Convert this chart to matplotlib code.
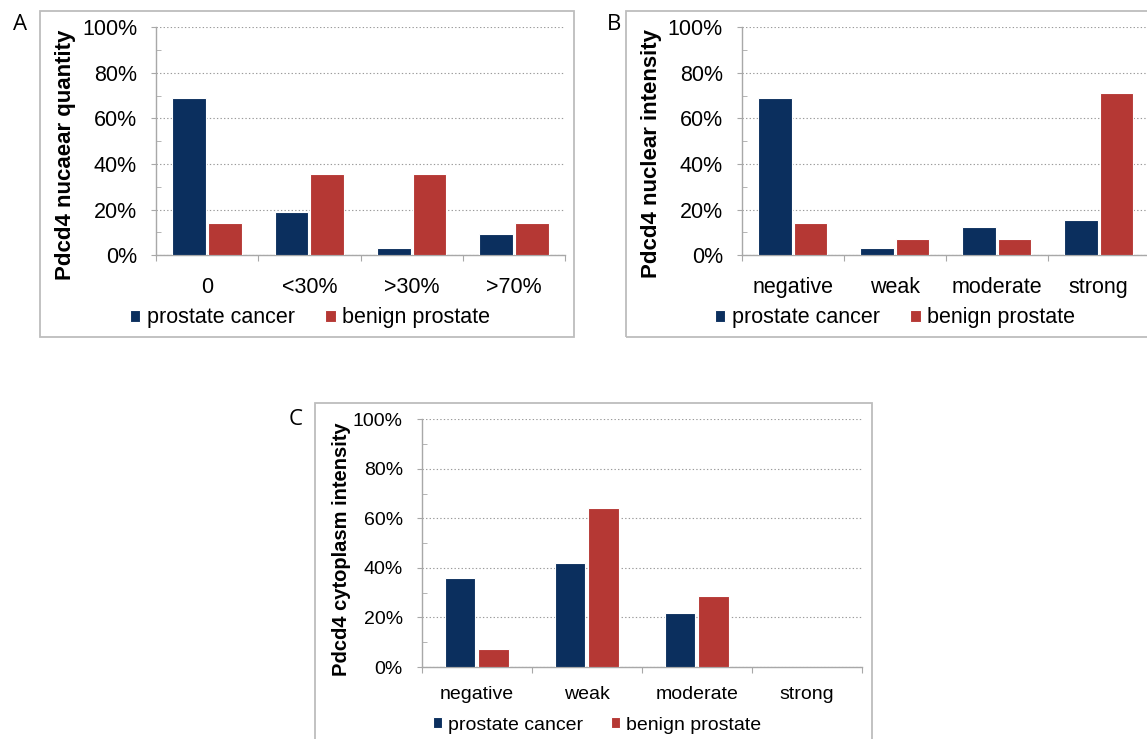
import matplotlib
matplotlib.use("Agg")
import matplotlib.pyplot as plt
from matplotlib.patches import Rectangle
from matplotlib.ticker import FuncFormatter

# data (percent of cases)
quantity_cats = ["0", "<30%", ">30%", ">70%"]
quantity_cancer = [68.8, 18.8, 3.1, 9.4]
quantity_benign = [14.3, 35.7, 35.7, 14.3]

nuclear_cats = ["negative", "weak", "moderate", "strong"]
nuclear_cancer = [68.8, 3.1, 12.5, 15.6]
nuclear_benign = [14.3, 7.1, 7.1, 71.4]

cyto_cats = ["negative", "weak", "moderate", "strong"]
cyto_cancer = [36.0, 42.0, 22.0, 0.0]
cyto_benign = [7.1, 64.3, 28.6, 0.0]

series_names = ["prostate cancer", "benign prostate"]
BLUE = "#0b2f5e"
RED = "#b53834"
GRID = "#9a9a9a"
SPINE = "#a8a8a8"

W, H = 1147, 739
plt.rcParams["font.family"] = ["Liberation Sans", "DejaVu Sans"]

fig = plt.figure(figsize=(W / 100, H / 100), dpi=100)


def px_axes(left, right, top, bottom):
    return fig.add_axes([left / W, 1 - bottom / H, (right - left) / W, (bottom - top) / H])


def frame(left, top, right, bottom):
    fig.patches.append(Rectangle((left / W, 1 - bottom / H), (right - left) / W, (bottom - top) / H,
                                 transform=fig.transFigure, fill=False, ec="#bdbdbd", lw=1.3))


def draw_panel(ax, cats, cancer, benign, ylabel, fs, width, offset, ylab_x, ylab_y, xpad,
               legend_xy, letter, letter_xy):
    x = range(len(cats))
    b1 = ax.bar([i - offset for i in x], cancer, width, color=BLUE, edgecolor="white", lw=0.8, zorder=3)
    b2 = ax.bar([i + offset for i in x], benign, width, color=RED, edgecolor="white", lw=0.8, zorder=3)

    ax.set_xlim(-0.5, len(cats) - 0.5)
    ax.set_ylim(0, 100)
    for s in ["top", "right"]:
        ax.spines[s].set_visible(False)
    for s in ["left", "bottom"]:
        ax.spines[s].set_color(SPINE)
        ax.spines[s].set_linewidth(1.0)

    # y axis: labelled majors outward, minors inward
    ax.set_yticks([0, 20, 40, 60, 80, 100])
    ax.set_yticks([10, 30, 50, 70, 90], minor=True)
    ax.yaxis.set_major_formatter(FuncFormatter(lambda v, p: f"{v:.0f}%"))
    ax.tick_params(axis="y", which="major", direction="out", length=3.6, color=SPINE,
                   labelsize=fs, pad=10)
    ax.tick_params(axis="y", which="minor", direction="in", length=3.6, color=SPINE)
    ax.yaxis.grid(True, which="major", linestyle=(0, (1.2, 2)), color=GRID, lw=0.8)
    ax.set_axisbelow(True)

    # x axis: tick marks between categories, labels at centres
    ax.set_xticks([i - 0.5 for i in range(len(cats) + 1)])
    ax.set_xticklabels([])
    ax.set_xticks(list(x), cats, minor=True)
    ax.tick_params(axis="x", which="major", direction="out", length=4.3, color=SPINE)
    ax.tick_params(axis="x", which="minor", length=0, labelsize=fs, pad=xpad)

    ax.set_ylabel(ylabel, fontsize=fs + 0.5, fontweight="bold")
    ax.yaxis.set_label_coords(ylab_x, ylab_y)
    ax.yaxis.label.set_va("center")

    ax.legend([b1, b2], series_names, loc="center", ncol=2, frameon=False, fontsize=fs,
              bbox_to_anchor=(legend_xy[0] / W, 1 - legend_xy[1] / H), bbox_transform=fig.transFigure,
              handlelength=0.5, handleheight=0.5, handletextpad=0.3, columnspacing=1.4,
              borderpad=0, borderaxespad=0)

    fig.text(letter_xy[0] / W, 1 - letter_xy[1] / H, letter, fontsize=16,
             family=["Open Sans", "DejaVu Sans"], ha="center", va="center")


# panel A
frame(40, 11, 574, 337)
axA = px_axes(156, 565, 27.3, 255.3)
draw_panel(axA, quantity_cats, quantity_cancer, quantity_benign, "Pdcd4 nucaear quantity",
           15.5, 0.33, 0.176, (65 - 156) / 409, (255.3 - 155) / 228, 15.5,
           (310, 318), "A", (20, 25))

# panel B
frame(626, 11, 1150, 337)
axB = px_axes(741.7, 1149.7, 27.3, 255.3)
draw_panel(axB, nuclear_cats, nuclear_cancer, nuclear_benign, "Pdcd4 nuclear intensity",
           15.5, 0.33, 0.176, (651.7 - 741.7) / 408, (255.3 - 154) / 228, 15.5,
           (895, 318), "B", (614, 25))

# panel C
frame(315, 403.5, 872, 760)
axC = px_axes(421.7, 861.7, 419.3, 667)
draw_panel(axC, cyto_cats, cyto_cancer, cyto_benign, "Pdcd4 cytoplasm intensity",
           14, 0.28, 0.152, (341.7 - 421.7) / 440, (667 - 549) / 247.7, 13.5,
           (597, 725), "C", (296, 419))

fig.savefig("out.png", dpi=100)
